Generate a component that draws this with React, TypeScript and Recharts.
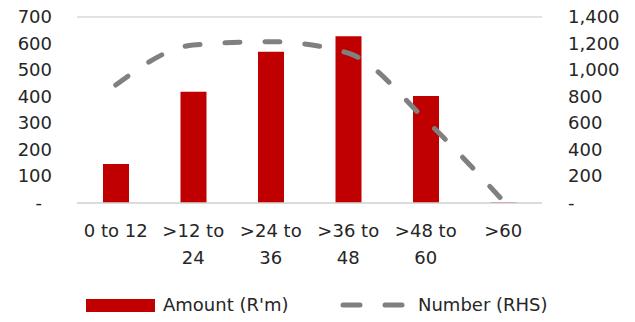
import React from 'react';
import { ComposedChart, Bar, Line, XAxis, YAxis, CartesianGrid, Legend } from 'recharts';

const categories = ['0 to 12', '>12 to 24', '>24 to 36', '>36 to 48', '>48 to 60', '>60'];
const amounts = [147, 419, 569, 628, 403, 3];
const numbers = [888, 1189, 1214, 1128, 624, 15];
const leftTicks = [0, 100, 200, 300, 400, 500, 600, 700];
const rightTicks = [0, 200, 400, 600, 800, 1000, 1200, 1400];

const data = categories.map((c, i) => ({ cat: c, amount: amounts[i], number: numbers[i] }));

const FONT = '"DejaVu Sans", sans-serif';
const FS = 18;
const TEXT = '#262626';

const XTick = (props: any) => {
  const { x, y, payload } = props;
  const v: string = payload.value;
  let lines: string[] = [v];
  if (v.length > 7) {
    const idx = v.lastIndexOf(' ');
    lines = [v.slice(0, idx), v.slice(idx + 1)];
  }
  return (
    <g>
      {lines.map((l, i) => (
        <text key={i} x={x} y={y + 26 + i * 27} textAnchor="middle" fontSize={FS} fill={TEXT} fontFamily={FONT}>
          {l}
        </text>
      ))}
    </g>
  );
};

const LeftTick = (props: any) => {
  const { x, y, payload } = props;
  const v = payload.value;
  return (
    <text x={v === 0 ? x - 10 : x} y={y} dy={6} textAnchor="end" fontSize={FS} fill={TEXT} fontFamily={FONT}>
      {v === 0 ? '-' : String(v)}
    </text>
  );
};

const RightTick = (props: any) => {
  const { x, y, payload } = props;
  const v = payload.value;
  return (
    <text x={x} y={y} dy={6} textAnchor="start" fontSize={FS} fill={TEXT} fontFamily={FONT}>
      {v === 0 ? '-' : v.toLocaleString('en-US')}
    </text>
  );
};

const LegendContent = () => (
  <div style={{ position: 'relative', width: 635, height: 30, fontFamily: FONT, fontSize: FS, color: TEXT }}>
    <div style={{ position: 'absolute', left: 86, top: 15, width: 69, height: 13, background: '#C00000' }} />
    <div style={{ position: 'absolute', left: 163, top: 9, lineHeight: '24px', whiteSpace: 'nowrap' }}>Amount (R'm)</div>
    <svg style={{ position: 'absolute', left: 338, top: 14 }} width={70} height={14}>
      <line x1={5} y1={7} x2={64} y2={7} stroke="#808080" strokeWidth={5} strokeLinecap="round" strokeDasharray="17 25" />
    </svg>
    <div style={{ position: 'absolute', left: 418, top: 9, lineHeight: '24px', whiteSpace: 'nowrap' }}>Number (RHS)</div>
  </div>
);

export default function App() {
  return (
    <div style={{ position: 'absolute', left: 0, top: 0, background: '#fff' }}>
      <ComposedChart width={635} height={322} data={data} margin={{ top: 17, right: 0, bottom: 8, left: 0 }}>
        <CartesianGrid vertical={false} stroke="#d9d9d9" strokeWidth={1.5} />
        <XAxis dataKey="cat" height={81} tick={<XTick />} tickLine={false} axisLine={{ stroke: '#d9d9d9', strokeWidth: 1.5 }} interval={0} />
        <YAxis yAxisId="left" width={77} domain={[0, 700]} ticks={leftTicks} tick={<LeftTick />} tickLine={false} axisLine={false} tickMargin={19} />
        <YAxis yAxisId="right" orientation="right" width={93} domain={[0, 1400]} ticks={rightTicks} tick={<RightTick />} tickLine={false} axisLine={false} tickMargin={20} />
        <Bar yAxisId="left" dataKey="amount" fill="#C00000" barSize={26} isAnimationActive={false} />
        <Line yAxisId="right" dataKey="number" type="monotone" stroke="#808080" strokeWidth={5} strokeLinecap="round" strokeDasharray="15 25" dot={false} isAnimationActive={false} />
        <Legend verticalAlign="bottom" height={30} content={<LegendContent />} />
      </ComposedChart>
    </div>
  );
}
